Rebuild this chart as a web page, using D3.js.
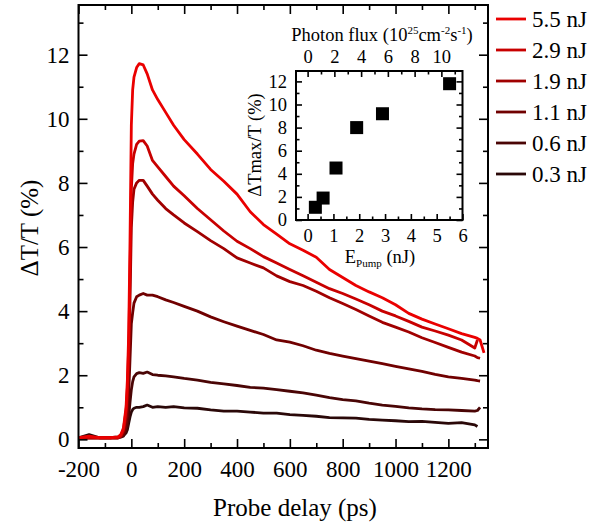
<!DOCTYPE html>
<html lang="en">
  <head>
    <meta charset="UTF-8" />
    <title>Pump-probe transients</title>
    <script src="https://d3js.org/d3.v7.min.js"></script>
    <style>
      body {
        margin: 0;
        background: #fff;
      }
      svg text {
        font-family: 'Liberation Serif', 'Times New Roman', serif;
        fill: #000;
      }
      .frame {
        fill: none;
        stroke: #000;
        stroke-width: 2px;
      }
      .tick line {
        stroke: #000;
        stroke-width: 1.6px;
      }
      .domain {
        display: none;
      }
      .curve {
        fill: none;
        stroke-width: 2.8px;
        stroke-linejoin: round;
      }
    </style>
  </head>
  <body>
    <svg width="605" height="528"></svg>
    <script>
      // probe delay (ps)
      const delays = [
        -200, -160, -120, -80, -50, -40, -30, -20, -15, -10, -5, 0, 5, 10, 20,
        30, 45, 60, 80, 100, 130, 160, 200, 250, 300, 350, 400, 450, 500, 550,
        600, 650, 700, 750, 800, 850, 900, 950, 1000, 1050, 1100, 1150, 1200,
        1250, 1300, 1310, 1320, 1335,
      ];

      // dT/T (%) per pump energy, null where the trace has stopped
      const trace55 = [
        0.05, 0.1, 0.05, 0.05, 0.08, 0.15, 0.35, 1.0, 1.85, 3.3, 6.2, 9.8,
        10.9, 11.3, 11.6, 11.72, 11.68, 11.4, 10.9, 10.6, 10.2, 9.8, 9.35, 8.9,
        8.42, 8.05, 7.65, 7.1, 6.7, 6.4, 6.1, 5.9, 5.68, 5.3, 5.05, 4.8, 4.6,
        4.42, 4.2, 3.93, 3.75, 3.6, 3.45, 3.3, 3.18, 3.15, 3.1, 2.7,
      ];
      const trace29 = [
        0.05, 0.05, 0.05, 0.05, 0.05, 0.1, 0.3, 0.9, 1.6, 2.9, 5.2, 7.8, 8.6,
        8.9, 9.2, 9.3, 9.32, 9.15, 8.7, 8.5, 8.2, 7.9, 7.6, 7.2, 6.85, 6.5,
        6.18, 5.95, 5.7, 5.5, 5.3, 5.1, 4.9, 4.7, 4.55, 4.38, 4.2, 4.0, 3.85,
        3.68, 3.5, 3.38, 3.25, 3.1, 2.85, 3.1, null, null,
      ];
      const trace19 = [
        0.05, 0.05, 0.05, 0.05, 0.05, 0.1, 0.25, 0.7, 1.3, 2.4, 4.3, 6.6, 7.4,
        7.8, 8.0, 8.08, 8.08, 7.9, 7.65, 7.46, 7.2, 7.0, 6.75, 6.48, 6.2, 5.95,
        5.66, 5.5, 5.35, 5.1, 4.92, 4.8, 4.62, 4.42, 4.24, 4.05, 3.85, 3.65,
        3.5, 3.35, 3.17, 3.02, 2.87, 2.72, 2.6, 2.55, 2.53, null,
      ];
      const trace11 = [
        0.05, 0.05, 0.05, 0.05, 0.05, 0.08, 0.15, 0.4, 0.75, 1.4, 2.5, 3.6,
        3.95, 4.25, 4.45, 4.5, 4.55, 4.5, 4.5, 4.45, 4.35, 4.27, 4.15, 4.0,
        3.82, 3.67, 3.53, 3.4, 3.27, 3.1, 3.03, 2.92, 2.78, 2.68, 2.6, 2.52,
        2.44, 2.36, 2.28, 2.2, 2.12, 2.03, 1.95, 1.9, 1.85, 1.83, 1.82, null,
      ];
      const trace06 = [
        0.05, 0.05, 0.05, 0.05, 0.05, 0.07, 0.1, 0.25, 0.4, 0.7, 1.15, 1.55,
        1.8, 1.95, 2.05, 2.08, 2.06, 2.1, 2.02, 2.0, 1.98, 1.95, 1.9, 1.85,
        1.78, 1.73, 1.68, 1.62, 1.6, 1.55, 1.5, 1.45, 1.38, 1.3, 1.24, 1.2,
        1.13, 1.07, 1.03, 0.98, 0.95, 0.93, 0.92, 0.9, 0.88, 0.9, 1.0, null,
      ];
      const trace03 = [
        0.05, 0.15, 0.05, 0.05, 0.08, 0.1, 0.12, 0.2, 0.3, 0.5, 0.7, 0.85,
        0.93, 0.97, 1.0, 1.0, 1.02, 1.07, 1.0, 1.02, 1.0, 1.02, 0.98, 0.97,
        0.92, 0.88, 0.88, 0.85, 0.82, 0.82, 0.77, 0.75, 0.72, 0.68, 0.67, 0.66,
        0.62, 0.6, 0.58, 0.55, 0.56, 0.53, 0.5, 0.52, 0.45, 0.4, null, null,
      ];

      const legendLabels = ['5.5 nJ', '2.9 nJ', '1.9 nJ', '1.1 nJ', '0.6 nJ', '0.3 nJ'];
      const traceColors = ['#ea0000', '#c80000', '#a00000', '#700000', '#4a0505', '#2a0808'];
      const traces = [trace55, trace29, trace19, trace11, trace06, trace03];

      // inset: peak dT/T vs pump energy
      const pumpEnergy = [0.3, 0.6, 1.1, 1.9, 2.9, 5.5];
      const peakSignal = [1.1, 1.9, 4.5, 8.0, 9.2, 11.8];
      const fluxPerNJ = 1.93; // photon flux (1e25 cm^-2 s^-1) per nJ

      const svg = d3.select('svg');
      const plain = (d) => String(d); // hyphen minus like the original

      // ---- main panel ----
      const x = d3.scaleLinear().domain([-200, 1350]).range([78.5, 488]);
      const y = d3.scaleLinear().domain([-0.27, 13.55]).range([448, 5]);

      const line = d3
        .line()
        .defined((d) => d[1] !== null)
        .x((d) => x(d[0]))
        .y((d) => y(d[1]));

      // lowest energy first so the red trace ends on top
      traces
        .map((t, i) => ({ values: t, color: traceColors[i] }))
        .reverse()
        .forEach((s) => {
          svg
            .append('path')
            .attr('class', 'curve')
            .attr('stroke', s.color)
            .attr('d', line(delays.map((t, j) => [t, s.values[j]])));
        });

      const xMajor = d3.range(-200, 1201, 200);
      const xMinor = d3.range(-100, 1301, 200);
      const yMajor = d3.range(0, 13, 2);
      const yMinor = d3.range(1, 14, 2);

      const axisFont = (g, size) => g.selectAll('text').style('font-size', size + 'px');

      svg
        .append('g')
        .attr('transform', 'translate(0,448)')
        .call(d3.axisBottom(x).tickValues(xMajor).tickSize(-9).tickPadding(13).tickFormat(plain))
        .call(axisFont, 23);
      svg
        .append('g')
        .attr('transform', 'translate(0,448)')
        .call(d3.axisBottom(x).tickValues(xMinor).tickSize(-5).tickFormat(''));
      svg
        .append('g')
        .attr('transform', 'translate(0,5)')
        .call(d3.axisTop(x).tickValues(xMajor).tickSize(-9).tickFormat(''));
      svg
        .append('g')
        .attr('transform', 'translate(0,5)')
        .call(d3.axisTop(x).tickValues(xMinor).tickSize(-5).tickFormat(''));

      svg
        .append('g')
        .attr('transform', 'translate(78.5,0)')
        .call(d3.axisLeft(y).tickValues(yMajor).tickSize(-9).tickPadding(9).tickFormat(plain))
        .call(axisFont, 23);
      svg
        .append('g')
        .attr('transform', 'translate(78.5,0)')
        .call(d3.axisLeft(y).tickValues(yMinor).tickSize(-5).tickFormat(''));
      svg
        .append('g')
        .attr('transform', 'translate(488,0)')
        .call(d3.axisRight(y).tickValues(yMajor).tickSize(-9).tickFormat(''));
      svg
        .append('g')
        .attr('transform', 'translate(488,0)')
        .call(d3.axisRight(y).tickValues(yMinor).tickSize(-5).tickFormat(''));

      svg
        .append('rect')
        .attr('class', 'frame')
        .attr('x', 78.5)
        .attr('y', 5)
        .attr('width', 488 - 78.5)
        .attr('height', 448 - 5);

      svg
        .append('text')
        .attr('x', 295)
        .attr('y', 516)
        .attr('text-anchor', 'middle')
        .style('font-size', '25px')
        .text('Probe delay (ps)');

      svg
        .append('text')
        .attr('transform', 'translate(38,228) rotate(-90)')
        .attr('text-anchor', 'middle')
        .style('font-size', '25px')
        .text('ΔT/T (%)');

      // legend
      const legend = svg
        .selectAll('.legend')
        .data(legendLabels)
        .enter()
        .append('g')
        .attr('class', 'legend')
        .attr('transform', (d, i) => `translate(496,${19 + i * 31})`);
      legend
        .append('line')
        .attr('x2', 30)
        .attr('stroke', (d, i) => traceColors[i])
        .attr('stroke-width', 2.8);
      legend
        .append('text')
        .attr('x', 36)
        .attr('dy', '0.35em')
        .style('font-size', '23px')
        .text((d) => d);

      // ---- inset ----
      const ix = d3.scaleLinear().domain([-0.45, 6]).range([296, 462.5]);
      const iy = d3.scaleLinear().domain([0, 12.9]).range([220, 71]);
      const flux = d3
        .scaleLinear()
        .domain([-0.45 * fluxPerNJ, 6 * fluxPerNJ])
        .range([296, 462.5]);

      svg
        .append('g')
        .attr('transform', 'translate(0,220)')
        .call(d3.axisBottom(ix).tickValues(d3.range(0, 7)).tickSize(-6).tickPadding(9).tickFormat(plain))
        .call(axisFont, 18.5);
      svg
        .append('g')
        .attr('transform', 'translate(0,220)')
        .call(d3.axisBottom(ix).tickValues(d3.range(0.5, 6, 1)).tickSize(-3.5).tickFormat(''));
      svg
        .append('g')
        .attr('transform', 'translate(0,71)')
        .call(d3.axisTop(flux).tickValues(d3.range(0, 11, 2)).tickSize(-6).tickPadding(8).tickFormat(plain))
        .call(axisFont, 18.5);
      svg
        .append('g')
        .attr('transform', 'translate(0,71)')
        .call(d3.axisTop(flux).tickValues(d3.range(1, 12, 2)).tickSize(-3.5).tickFormat(''));
      svg
        .append('g')
        .attr('transform', 'translate(296,0)')
        .call(d3.axisLeft(iy).tickValues(d3.range(0, 13, 2)).tickSize(-6).tickPadding(9).tickFormat(plain))
        .call(axisFont, 18.5);
      svg
        .append('g')
        .attr('transform', 'translate(296,0)')
        .call(d3.axisLeft(iy).tickValues(d3.range(1, 13, 2)).tickSize(-3.5).tickFormat(''));
      svg
        .append('g')
        .attr('transform', 'translate(462.5,0)')
        .call(d3.axisRight(iy).tickValues(d3.range(0, 13, 2)).tickSize(-6).tickFormat(''));
      svg
        .append('g')
        .attr('transform', 'translate(462.5,0)')
        .call(d3.axisRight(iy).tickValues(d3.range(1, 13, 2)).tickSize(-3.5).tickFormat(''));

      svg
        .append('rect')
        .attr('class', 'frame')
        .attr('x', 296)
        .attr('y', 71)
        .attr('width', 462.5 - 296)
        .attr('height', 220 - 71);

      svg
        .selectAll('.pt')
        .data(pumpEnergy)
        .enter()
        .append('rect')
        .attr('class', 'pt')
        .attr('x', (d) => ix(d) - 6.5)
        .attr('y', (d, i) => iy(peakSignal[i]) - 6.5)
        .attr('width', 13)
        .attr('height', 13)
        .attr('fill', '#000');

      const fluxTitle = svg
        .append('text')
        .attr('x', 382)
        .attr('y', 41)
        .attr('text-anchor', 'middle')
        .style('font-size', '18.5px');
      fluxTitle.append('tspan').text('Photon flux (10');
      fluxTitle.append('tspan').attr('dy', -7).style('font-size', '11px').text('25');
      fluxTitle.append('tspan').attr('dy', 7).text('cm');
      fluxTitle.append('tspan').attr('dy', -7).style('font-size', '11px').text('-2');
      fluxTitle.append('tspan').attr('dy', 7).text('s');
      fluxTitle.append('tspan').attr('dy', -7).style('font-size', '11px').text('-1');
      fluxTitle.append('tspan').attr('dy', 7).text(')');

      const eTitle = svg
        .append('text')
        .attr('x', 380)
        .attr('y', 263)
        .attr('text-anchor', 'middle')
        .style('font-size', '18.5px');
      eTitle.append('tspan').text('E');
      eTitle.append('tspan').attr('dy', 4).style('font-size', '11px').text('Pump');
      eTitle.append('tspan').attr('dy', -4).text(' (nJ)');

      svg
        .append('text')
        .attr('transform', 'translate(261,145) rotate(-90)')
        .attr('text-anchor', 'middle')
        .style('font-size', '18.5px')
        .text('ΔTmax/T (%)');
    </script>
  </body>
</html>
